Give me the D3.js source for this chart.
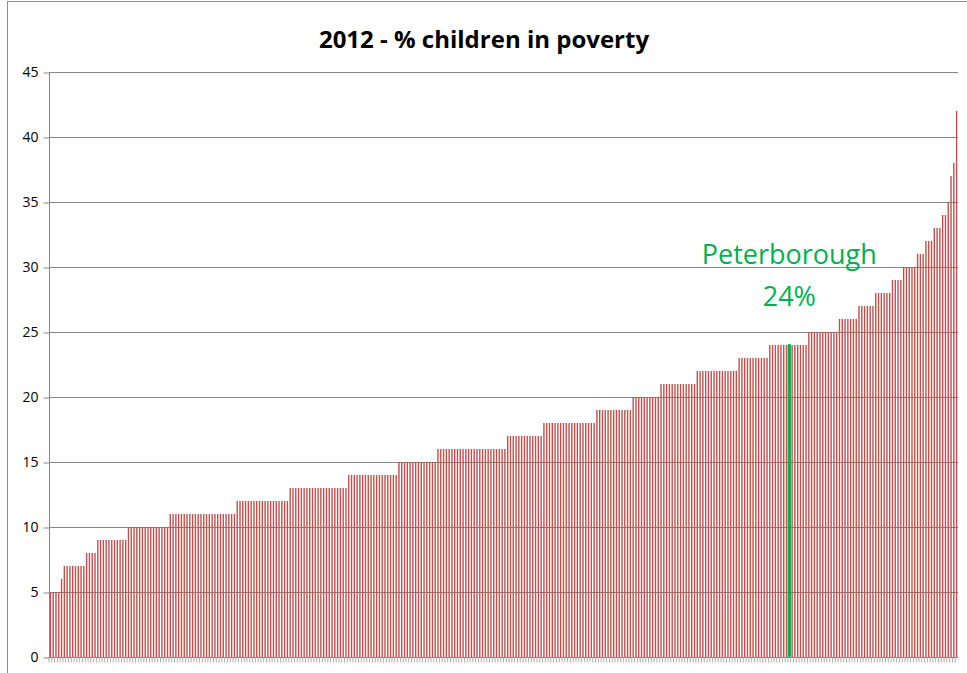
<!DOCTYPE html>
<html>
<head>
<meta charset="utf-8">
<script src="https://cdn.jsdelivr.net/npm/d3@7"></script>
<style>
  html, body { margin: 0; padding: 0; background: #fff; }
  svg { display: block; }
</style>
</head>
<body>
<svg id="chart" width="967" height="673"></svg>
<script>
// Child poverty rate (%) for each local authority, 2012, sorted ascending
const povertyRates = [
  5, 5, 5, 5,
  6,
  7, 7, 7, 7, 7, 7, 7, 7,
  8, 8, 8, 8,
  9, 9, 9, 9, 9, 9, 9, 9, 9, 9, 9,
  10, 10, 10, 10, 10, 10, 10, 10, 10, 10, 10, 10, 10, 10, 10,
  11, 11, 11, 11, 11, 11, 11, 11, 11, 11, 11, 11, 11, 11, 11, 11, 11, 11, 11, 11, 11, 11, 11, 11,
  12, 12, 12, 12, 12, 12, 12, 12, 12, 12, 12, 12, 12, 12, 12, 12, 12, 12, 12,
  13, 13, 13, 13, 13, 13, 13, 13, 13, 13, 13, 13, 13, 13, 13, 13, 13, 13, 13, 13, 13,
  14, 14, 14, 14, 14, 14, 14, 14, 14, 14, 14, 14, 14, 14, 14, 14, 14, 14,
  15, 15, 15, 15, 15, 15, 15, 15, 15, 15, 15, 15, 15, 15,
  16, 16, 16, 16, 16, 16, 16, 16, 16, 16, 16, 16, 16, 16, 16, 16, 16, 16, 16, 16, 16, 16, 16, 16, 16,
  17, 17, 17, 17, 17, 17, 17, 17, 17, 17, 17, 17, 17,
  18, 18, 18, 18, 18, 18, 18, 18, 18, 18, 18, 18, 18, 18, 18, 18, 18, 18, 18,
  19, 19, 19, 19, 19, 19, 19, 19, 19, 19, 19, 19, 19,
  20, 20, 20, 20, 20, 20, 20, 20, 20, 20,
  21, 21, 21, 21, 21, 21, 21, 21, 21, 21, 21, 21, 21,
  22, 22, 22, 22, 22, 22, 22, 22, 22, 22, 22, 22, 22, 22, 22,
  23, 23, 23, 23, 23, 23, 23, 23, 23, 23, 23,
  24, 24, 24, 24, 24, 24, 24, 24, 24, 24, 24, 24, 24, 24,
  25, 25, 25, 25, 25, 25, 25, 25, 25, 25, 25,
  26, 26, 26, 26, 26, 26, 26,
  27, 27, 27, 27, 27, 27,
  28, 28, 28, 28, 28, 28,
  29, 29, 29, 29,
  30, 30, 30, 30, 30,
  31, 31, 31,
  32, 32, 32,
  33, 33, 33,
  34, 34,
  35,
  37,
  38,
  42
];

// Position of Peterborough in the sorted list and its rate
const highlightIndex = 265;
const highlightName = "Peterborough";
const highlightValue = 24;

const yTicks = [0, 5, 10, 15, 20, 25, 30, 35, 40, 45];
const titleText = "2012 - % children in poverty";

const svg = d3.select("#chart");
const plot = { left: 49, right: 958, top: 72, bottom: 657 };

// Outer chart frame
svg.append("rect")
  .attr("x", 7.5).attr("y", 1.5)
  .attr("width", 980).attr("height", 700)
  .attr("fill", "none")
  .attr("stroke", "#8c8c8c")
  .attr("stroke-width", 1);

const categories = povertyRates.map((d, i) => i);

const x = d3.scaleBand()
  .domain(categories)
  .range([plot.left, plot.right])
  .paddingInner(0)
  .paddingOuter(0);

const y = d3.scaleLinear()
  .domain([0, 45])
  .range([plot.bottom, plot.top]);

// Horizontal gridlines
svg.append("g")
  .selectAll("line")
  .data(yTicks.filter(t => t > 0))
  .join("line")
  .attr("x1", plot.left).attr("x2", plot.right)
  .attr("y1", d => Math.round(y(d)) + 0.5)
  .attr("y2", d => Math.round(y(d)) + 0.5)
  .attr("stroke", "#868686")
  .attr("stroke-width", 1);

// Columns
const barWidth = x.bandwidth() * 0.5;
svg.append("g")
  .selectAll("rect")
  .data(povertyRates)
  .join("rect")
  .attr("x", (d, i) => x(i) + (x.bandwidth() - barWidth) / 2)
  .attr("y", d => y(d))
  .attr("width", barWidth)
  .attr("height", d => y(0) - y(d))
  .attr("fill", "#c0504d");

// Highlighted authority
const hx = x(highlightIndex) + x.bandwidth() / 2;
svg.append("rect")
  .attr("x", hx - 1.6)
  .attr("y", y(highlightValue) - 1)
  .attr("width", 3.2)
  .attr("height", y(0) - y(highlightValue) + 1)
  .attr("rx", 1)
  .attr("fill", "#00b050");

svg.append("text")
  .attr("x", hx)
  .attr("y", 264)
  .attr("text-anchor", "middle")
  .attr("font-family", "'Open Sans', sans-serif")
  .attr("font-size", 27)
  .attr("fill", "#00b050")
  .text(highlightName);

svg.append("text")
  .attr("x", hx)
  .attr("y", 306)
  .attr("text-anchor", "middle")
  .attr("font-family", "'Open Sans', sans-serif")
  .attr("font-size", 27)
  .attr("fill", "#00b050")
  .text(highlightValue + "%");

// Y axis
const yAxis = d3.axisLeft(y)
  .tickValues(yTicks)
  .tickSize(6)
  .tickPadding(5);

const yg = svg.append("g")
  .attr("transform", `translate(${plot.left + 0.5},0.5)`)
  .call(yAxis);
yg.select(".domain").attr("stroke", "#868686").attr("d", `M0,${plot.top}V${plot.bottom}`);
yg.selectAll(".tick line").attr("stroke", "#868686");
yg.selectAll(".tick text")
  .attr("font-family", "'Open Sans', sans-serif")
  .attr("font-size", 14)
  .attr("fill", "#000");

// X axis (category ticks only, no labels)
const xAxis = d3.axisBottom(x)
  .tickSize(5)
  .tickFormat("");
const xg = svg.append("g")
  .attr("transform", `translate(0,${Math.round(plot.bottom) + 0.5})`)
  .call(xAxis);
xg.select(".domain").attr("stroke", "#868686").attr("d", `M${plot.left},0H${plot.right}`);
xg.selectAll(".tick line")
  .attr("stroke", "#9a9a9a")
  .attr("stroke-width", 0.8)
  .attr("transform", `translate(${-x.bandwidth() / 2},0)`);

// Title
svg.append("text")
  .attr("x", 484)
  .attr("y", 48)
  .attr("text-anchor", "middle")
  .attr("font-family", "'Open Sans', sans-serif")
  .attr("font-weight", "bold")
  .attr("font-size", 24)
  .attr("fill", "#000")
  .text(titleText);
</script>
</body>
</html>
